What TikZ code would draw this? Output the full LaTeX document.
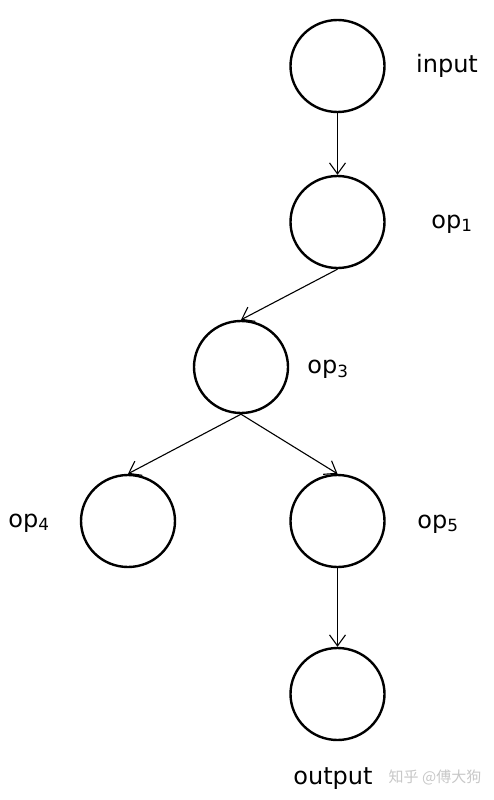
\documentclass[tikz,border=0pt]{standalone}
\usepackage{fontspec}
\setmainfont{DejaVu Sans}
\newfontfamily\cjk{Noto Sans CJK SC}
\usetikzlibrary{arrows.meta,shapes.geometric}
\begin{document}
\begin{tikzpicture}[x=1pt,y=-1pt,
  opnode/.style={draw,line width=2.4pt,ellipse,minimum width=94pt,minimum height=92pt,inner sep=0pt},
  edge/.style={line width=1.1pt,-{Straight Barb[length=11pt,width=16pt,line width=1.1pt]}},
  lab/.style={font=\fontsize{24}{28}\selectfont,inner sep=0pt}]
\useasboundingbox (0,0) rectangle (494,800);
\node[opnode] (in) at (337.5,66) {};
\node[opnode] (o1) at (337.5,222) {};
\node[opnode] (o3) at (241,367) {};
\node[opnode] (o4) at (128,521) {};
\node[opnode] (o5) at (337.5,521) {};
\node[opnode] (out) at (337.5,694) {};
\draw[edge] (in.south) -- (o1.north);
\draw[edge] (o1.south) -- (o3.north);
\draw[edge] (o3.south) -- (o4.north);
\draw[edge] (o3.south) -- (o5.north);
\draw[edge] (o5.south) -- (out.north);
\node[lab] (lin) at (447,66) {input};
\node[lab] (l1) at (452,224) {op\textsubscript{1}};
\node[lab] (l3) at (328,369) {op\textsubscript{3}};
\node[lab] (l4) at (29,523) {op\textsubscript{4}};
\node[lab] (l5) at (438,524) {op\textsubscript{5}};
\node[lab] (lout) at (333,779) {output};
\node[font=\cjk\fontsize{15}{17}\selectfont,text=black!22,inner sep=0pt] (wm) at (435,777) {知乎 @傅大狗};
\end{tikzpicture}
\end{document}
